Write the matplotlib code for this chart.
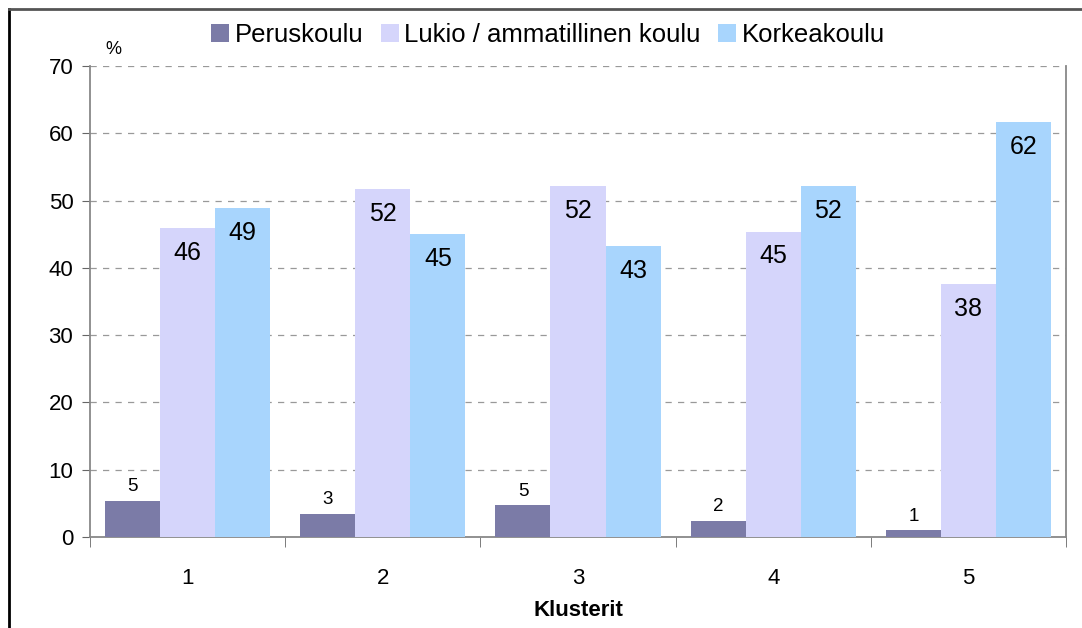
import numpy as np
import matplotlib.pyplot as plt
from matplotlib.lines import Line2D

plt.rcParams['font.family'] = ['Liberation Sans', 'DejaVu Sans']

clusters = ['1', '2', '3', '4', '5']
series = ['Peruskoulu', 'Lukio / ammatillinen koulu', 'Korkeakoulu']
peruskoulu = [5.4, 3.4, 4.7, 2.4, 1.0]
lukio = [45.9, 51.7, 52.1, 45.4, 37.6]
korkeakoulu = [48.9, 45.0, 43.3, 52.1, 61.7]
colors = ['#7b7ba7', '#d5d5fb', '#a8d5fd']

fig = plt.figure(figsize=(10.82, 6.28), dpi=100)
ax = fig.add_axes([90/1082, 1-537/628, (1066-90)/1082, (537-66)/628])

x = np.arange(len(clusters))
w = 0.282
for i, (vals, name) in enumerate(zip([peruskoulu, lukio, korkeakoulu], series)):
    pos = x + (i - 1) * w
    ax.bar(pos, vals, w, color=colors[i], label=name, zorder=3)
    for p, v in zip(pos, vals):
        if v > 10:
            ax.text(p, v - 3.7, f'{v:.0f}', ha='center', va='center', fontsize=18, zorder=4)
        else:
            ax.text(p, v + 2.1, f'{v:.0f}', ha='center', va='center', fontsize=13.5, zorder=4)

ax.set_xlim(-0.5, 4.5)
ax.set_ylim(0, 70)
ax.set_yticks(range(0, 71, 10))
ax.yaxis.grid(True, linestyle=(0, (5, 5)), color='#999999', linewidth=0.9, zorder=0)
ax.set_xticks(x)
ax.set_xticklabels(clusters)
ax.set_xticks(np.arange(-0.5, 5, 1), minor=True)
ax.tick_params(axis='x', which='major', length=0, labelsize=16, pad=22)
ax.tick_params(axis='x', which='minor', length=7, color='#666666', direction='out')
ax.tick_params(axis='y', length=6, color='#666666', labelsize=16, pad=6)
for s in ['left', 'right', 'bottom']:
    ax.spines[s].set_color('#888888')
    ax.spines[s].set_linewidth(1.3)
ax.spines['top'].set_visible(False)

ax.set_xlabel('Klusterit', fontsize=16, fontweight='bold', labelpad=8)
fig.text(113/1082, 1-50/628, '%', fontsize=13, ha='center', va='center')

ax.legend(loc='center', bbox_to_anchor=(548/1082, 1-35/628), bbox_transform=fig.transFigure,
          ncol=3, frameon=False, fontsize=18.5, handlelength=0.7, handleheight=0.7,
          handletextpad=0.2, columnspacing=0.7)

fig.add_artist(Line2D([9/1082, 9/1082], [0, 1-9/628], color='black', linewidth=2))
fig.add_artist(Line2D([9/1082, 1], [1-9/628, 1-9/628], color='#555555', linewidth=2))

fig.savefig('out.png', dpi=100)
